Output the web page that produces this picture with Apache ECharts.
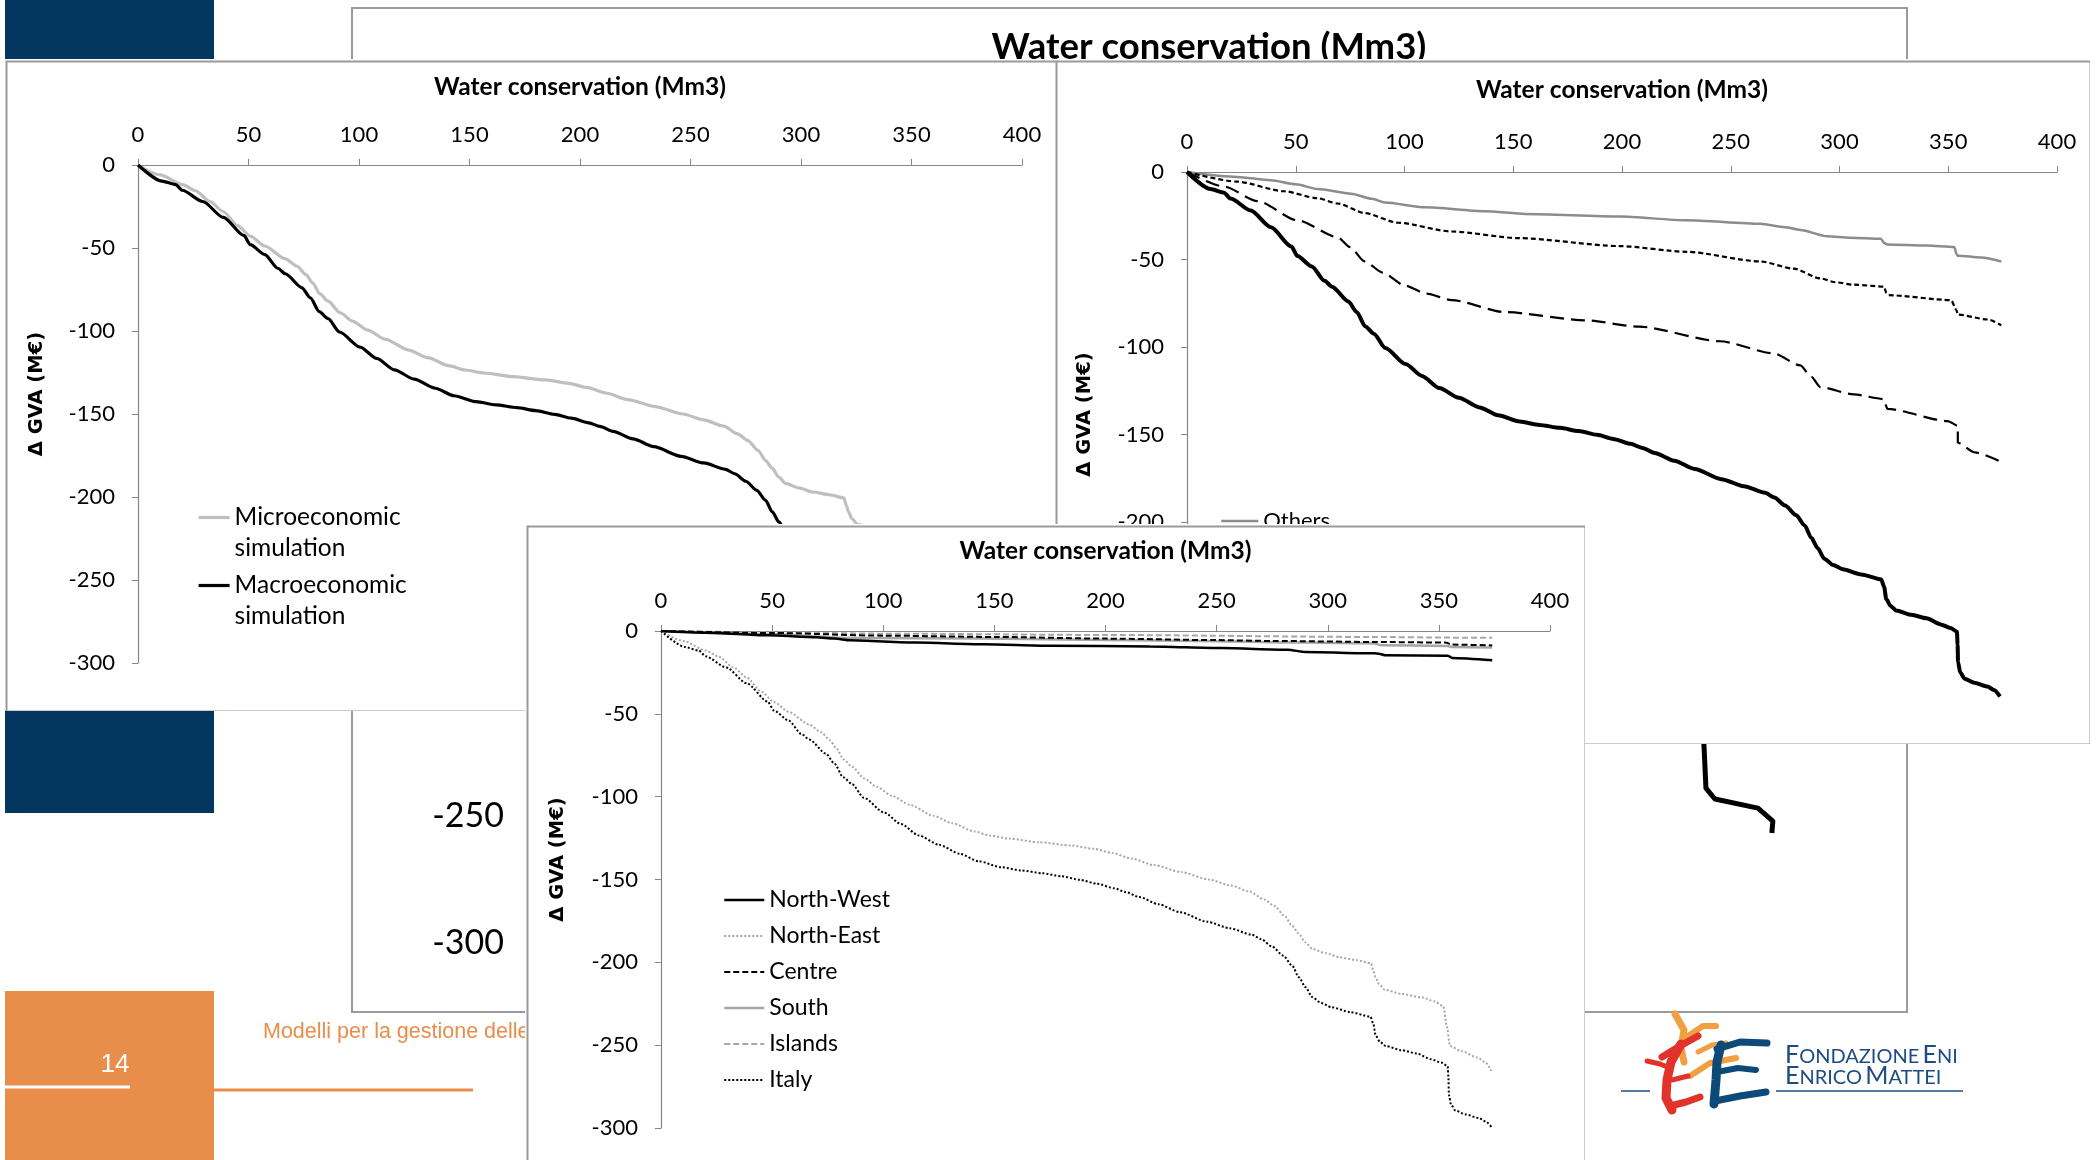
<!DOCTYPE html>
<html>
<head>
<meta charset="utf-8">
<script src="https://cdn.jsdelivr.net/npm/echarts@6/dist/echarts.min.js"></script>
<style>
  html, body { margin: 0; padding: 0; background: #fff; }
  #stage { position: relative; width: 2100px; height: 1160px; overflow: hidden; background: #fff; }
  .panel { position: absolute; background: #fff; }
</style>
</head>
<body>
<div id="stage">
  <div id="bg" class="panel" style="left:0;top:0;width:2100px;height:1160px;background:transparent"></div>
  <div id="p2" class="panel" style="left:1054px;top:59px;width:1036px;height:685px"></div>
  <div id="p1" class="panel" style="left:4px;top:59px;width:1052px;height:652px"></div>
  <div id="p3" class="panel" style="left:525px;top:524px;width:1060px;height:650px"></div>
</div>
<script>
// ---- axis ticks ----
const waterTicks = [0, 50, 100, 150, 200, 250, 300, 350, 400];
const gvaTicks = [0, -50, -100, -150, -200, -250, -300];

// ---- series: [water conservation Mm3, delta GVA M€] ----
const italyMacro = [[0,0],[10.8,-9.7],[17,-11.8],[20,-15.2],[29.3,-22],[38.6,-31.6],[48,-42.6],[50.8,-48],[57.4,-54],[63.2,-62.2],[66.7,-65.5],[74.2,-74],[78,-80],[82,-88.3],[86,-92.5],[91.2,-100.6],[100.5,-109.7],[108,-116.5],[116,-123.4],[125,-129],[134.5,-134.5],[143,-139],[153,-142.6],[162,-144.5],[171.5,-146.2],[180,-148],[188.5,-150.2],[196,-152.5],[204,-155.3],[209,-157.5],[215,-160.5],[224,-165],[233.4,-169.7],[245.7,-175.5],[256,-179.5],[265.8,-183.3],[270,-186],[275,-190.5],[280,-196],[284,-202],[287,-209],[290,-215],[293,-221],[297,-224.5],[301.5,-227],[310,-230],[319.2,-232.8],[320.5,-237],[321.5,-244],[323.5,-248],[326,-250.5],[333,-253],[340,-255],[346.5,-258.5],[351,-260.5],[354,-262.7],[354.3,-270],[354.5,-280],[355.5,-286],[357.5,-289.5],[362,-291.8],[368,-294],[371,-296],[373.8,-299.7]];
const microSim = [[0,0],[10,-6],[20.2,-11.8],[26,-15.5],[32.6,-22],[38.5,-28],[45,-36.5],[51,-43],[57.4,-48.8],[66.7,-56.5],[72,-61],[76,-66],[79,-71],[82.2,-77.5],[86,-82],[91.5,-89],[97,-94],[103.9,-99.5],[112,-105],[122.5,-111.5],[131,-116],[141,-121],[148,-123.5],[156.6,-125.3],[170,-127.5],[184.5,-129.5],[195,-131.5],[203,-134],[212,-137.5],[221.7,-141.3],[234,-145.5],[246.5,-150],[256,-153.5],[265,-157.3],[271.3,-162],[276,-166],[280.6,-172],[284,-178],[286.8,-182.5],[290,-188],[293,-191.8],[299,-194.5],[305.4,-197],[313,-198.7],[319.4,-200.5],[320.5,-205],[321.5,-209],[323,-213],[325.6,-216.5],[333,-219],[342.6,-221.3],[348,-223.5],[352,-226.5],[353.5,-238],[355,-250.5],[360,-253.5],[367.4,-257.5],[371,-260.5],[373.6,-265.5]];
const othersGroup = [[0,0],[23,-2.8],[38.5,-4.7],[50,-7],[60,-9.7],[75.5,-12.4],[85,-15.3],[91,-17.4],[109.4,-20.2],[137,-22.4],[155.6,-24],[198.8,-25.4],[229.6,-27.6],[263.5,-29.6],[275,-31.5],[282,-33.1],[294.3,-36.7],[305,-37.5],[319,-38.1],[320.5,-40.5],[322,-41.4],[340,-42],[352.8,-42.8],[353.8,-47],[354.4,-47.8],[365.2,-48.9],[374.4,-51.1]];
const groupShortDash = [[0,0],[23,-5.5],[44.7,-11],[60,-15],[69.3,-18],[81.7,-23.5],[97,-29],[121.7,-34],[152.5,-37.8],[198.8,-42.3],[229.6,-45.6],[263.5,-51.1],[278.9,-55.2],[291.2,-60.8],[298,-63],[306.6,-64.4],[320.5,-65.5],[321.5,-69],[322.6,-70.4],[351.3,-73.2],[353.8,-79],[354.4,-81.5],[368.2,-84.3],[374.4,-87.6]];
const groupLongDash = [[0,0],[17,-8.3],[32.4,-16.6],[50.8,-27.6],[69.3,-37.3],[75,-43],[81.7,-51.1],[90,-57.5],[100.2,-64.9],[110,-69.5],[121.7,-73.2],[146.4,-80.1],[183.4,-84.8],[208,-88.4],[245,-96.7],[269.6,-103.6],[282,-110.5],[287,-117],[291.2,-122.9],[306.6,-127.1],[320.5,-129.8],[321.2,-133],[322,-135.4],[349.8,-142.3],[354.4,-145],[354.4,-154.7],[362.1,-160.2],[374.4,-165.7]];
const northWest = [[0,0],[20,-1],[48,-2.6],[70,-3.8],[78,-4.6],[85,-5.6],[115,-7],[145,-8],[175,-8.9],[220,-9.3],[252,-10.3],[282,-11.3],[290,-12.7],[321,-13.5],[323,-13.7],[326,-14.7],[354,-14.9],[356,-16.3],[374,-17.7]];
const northEast = microSim;
const centre = [[0,0],[50,-1.2],[100,-2.8],[150,-3.6],[200,-4.6],[250,-5.5],[275,-6],[320,-6.6],[353,-7],[356,-8.2],[374,-8.7]];
const south = [[0,0],[47,-1.8],[85,-4.2],[145,-4.6],[200,-5.4],[250,-6.2],[290,-7],[321,-7.5],[324,-8.6],[354,-9],[356,-9.7],[374,-10]];
const islands = [[0,0],[50,-0.8],[100,-1.6],[200,-2.4],[320,-3.6],[356,-4],[374,-4]];
const italy = italyMacro;
// tail of the large chart in the back
const backTail = [[352,-200],[354.4,-222],[355,-239],[357.7,-243.3],[370.7,-246.9],[375.2,-252],[374.9,-256.7]];

const FONT = 'Lato';
const AXIS_GREY = '#868686';
const PANEL_BORDER = '#9a9a9a';

function xAxisCfg(gap) {
  return {
    type: 'value', position: 'top',
    min: waterTicks[0], max: waterTicks[waterTicks.length - 1], interval: waterTicks[1] - waterTicks[0],
    name: 'Water conservation (Mm3)', nameLocation: 'middle', nameGap: gap,
    nameTextStyle: { fontFamily: FONT, fontWeight: 'bold', fontSize: 24.5, color: '#000' },
    axisLine: { show: true, onZero: false, lineStyle: { color: AXIS_GREY, width: 1.2 } },
    axisTick: { show: true, length: 6, lineStyle: { color: AXIS_GREY } },
    axisLabel: { fontFamily: FONT, fontSize: 22, color: '#000', margin: 19 },
    splitLine: { show: false }
  };
}
function yAxisCfg(gap) {
  return {
    type: 'value',
    min: gvaTicks[gvaTicks.length - 1], max: gvaTicks[0], interval: gvaTicks[0] - gvaTicks[1],
    name: 'Δ GVA (M€)', nameLocation: 'middle', nameRotate: 90, nameGap: gap,
    nameTextStyle: { fontFamily: 'DejaVu Sans', fontWeight: 'bold', fontSize: 19.5, color: '#000', padding: [0, 0, 0, 40] },
    axisLine: { show: true, lineStyle: { color: AXIS_GREY, width: 1.2 } },
    axisTick: { show: true, length: 6, lineStyle: { color: AXIS_GREY } },
    axisLabel: { fontFamily: FONT, fontSize: 22, color: '#000', margin: 23 },
    splitLine: { show: false }
  };
}
function line(name, data, color, width, type, z) {
  return {
    name: name, type: 'line', data: data, showSymbol: false, symbol: 'none',
    smooth: 0.25, smoothMonotone: 'x', z: z || 2,
    lineStyle: { color: color, width: width, type: type || 'solid', cap: 'butt' },
    itemStyle: { color: color }
  };
}
function border(w, h) {
  return { type: 'rect', left: 0, top: 0, z: 100, silent: true,
    shape: { x: 1, y: 1, width: w - 2, height: h - 2 },
    style: { fill: 'none', stroke: PANEL_BORDER, lineWidth: 2 } };
}
function brush(points, color, width) {
  return { type: 'polyline', shape: { points: points },
    style: { stroke: color, lineWidth: width, fill: 'none', lineCap: 'round', lineJoin: 'round' } };
}

// ---- background slide ----
const bg = echarts.init(document.getElementById('bg'), null, { renderer: 'canvas' });
const RED = '#E2332A', ORANGE = '#F0A040', NAVY = '#0E4A78';
bg.setOption({
  animation: false,
  grid: { left: 530, right: 245, top: 181, bottom: 217 },
  xAxis: { type: 'value', min: 0, max: 400, interval: 50, show: false },
  yAxis: {
    type: 'value', min: gvaTicks[gvaTicks.length - 1], max: gvaTicks[0], interval: 50,
    axisLine: { show: false }, axisTick: { show: false }, splitLine: { show: false },
    axisLabel: { fontFamily: FONT, fontSize: 34, color: '#000', margin: 26 }
  },
  series: [ { name: 'Italy', type: 'line', data: backTail, showSymbol: false, symbol: 'none',
    lineStyle: { color: '#000', width: 5, join: 'round' } } ],
  graphic: [
    { type: 'rect', shape: { x: 5, y: 0, width: 209, height: 60 }, style: { fill: '#04375F' } },
    { type: 'rect', shape: { x: 5, y: 710, width: 209, height: 103 }, style: { fill: '#04375F' } },
    { type: 'rect', shape: { x: 5, y: 991, width: 209, height: 175 }, style: { fill: '#E98D4B' } },
    { type: 'text', x: 115, y: 1065, style: { text: '14', fill: '#fff', font: '26px "Liberation Sans"', align: 'center', verticalAlign: 'middle' } },
    { type: 'line', shape: { x1: 5, y1: 1087, x2: 130, y2: 1087 }, style: { stroke: '#fff', lineWidth: 3 } },
    { type: 'line', shape: { x1: 214, y1: 1090, x2: 473, y2: 1090 }, style: { stroke: '#E98D4B', lineWidth: 3 } },
    { type: 'text', x: 263, y: 1032, style: { text: 'Modelli per la gestione delle', fill: '#E98D4B', font: '21.5px "Liberation Sans"', align: 'left', verticalAlign: 'middle' } },
    { type: 'rect', shape: { x: 352, y: 8, width: 1555, height: 1004 }, style: { fill: 'none', stroke: PANEL_BORDER, lineWidth: 2 } },
    { type: 'text', x: 1209, y: 47.5, style: { text: 'Water conservation (Mm3)', fill: '#000', font: 'bold 36.5px Lato', align: 'center', verticalAlign: 'middle' } },
    // logo
    { type: 'text', x: 1785, y: 1067, style: {
        text: '{b|F}{s|ONDAZIONE} {b|E}{s|NI}', fill: '#1D4C80', align: 'left', verticalAlign: 'bottom',
        rich: { b: { fontFamily: FONT, fontSize: 25, fill: '#1D4C80', verticalAlign: 'bottom' }, s: { fontFamily: FONT, fontSize: 20, fill: '#1D4C80', verticalAlign: 'bottom' } } } },
    { type: 'text', x: 1785, y: 1088, style: {
        text: '{b|E}{s|NRICO} {b|M}{s|ATTEI}', fill: '#1D4C80', align: 'left', verticalAlign: 'bottom',
        rich: { b: { fontFamily: FONT, fontSize: 25, fill: '#1D4C80', verticalAlign: 'bottom' }, s: { fontFamily: FONT, fontSize: 20, fill: '#1D4C80', verticalAlign: 'bottom' } } } },
    { type: 'line', shape: { x1: 1776, y1: 1091, x2: 1963, y2: 1091 }, style: { stroke: '#1D4C80', lineWidth: 1.5 } },
    { type: 'line', shape: { x1: 1621, y1: 1091, x2: 1650, y2: 1091 }, style: { stroke: '#1D4C80', lineWidth: 1.5 } },
    brush([[1675,1014],[1684,1030],[1681,1048],[1684,1062]], ORANGE, 7),
    brush([[1688,1036],[1703,1026],[1716,1026]], ORANGE, 6),
    brush([[1690,1076],[1710,1063],[1736,1058]], ORANGE, 6),
    brush([[1698,1052],[1712,1045],[1726,1043]], ORANGE, 5),
    brush([[1662,1057],[1680,1046],[1698,1036]], RED, 7),
    brush([[1681,1044],[1671,1062],[1667,1080],[1666,1098],[1672,1110]], RED, 9),
    brush([[1670,1106],[1686,1102],[1700,1097]], RED, 7),
    brush([[1647,1061],[1660,1064],[1670,1068]], RED, 5),
    brush([[1672,1080],[1688,1076]], RED, 5),
    brush([[1717,1049],[1740,1042],[1767,1043]], NAVY, 7),
    brush([[1721,1045],[1717,1062],[1716,1080],[1714,1104]], NAVY, 9),
    brush([[1717,1072],[1738,1068],[1756,1070]], NAVY, 6),
    brush([[1715,1101],[1740,1096],[1766,1092]], NAVY, 7)
  ]
});

const legendLine = { width: 'inherit' };

// ---- panel 2: regional breakdown with "Others" ----
const c2 = echarts.init(document.getElementById('p2'));
c2.setOption({
  animation: false,
  grid: { left: 133, right: 33, top: 113, bottom: 47 },
  xAxis: xAxisCfg(69),
  yAxis: yAxisCfg(92),
  legend: {
    data: ['Others'], orient: 'vertical', left: 166, top: 451, padding: 0,
    itemWidth: 37, itemHeight: 14, itemGap: 10, itemStyle: { opacity: 0 }, lineStyle: legendLine,
    textStyle: { fontFamily: FONT, fontSize: 22, color: '#000' }
  },
  series: [
    line('Others', othersGroup, '#8C8C8C', 2.5),
    line('Group 2', groupShortDash, '#000', 2.2, [5, 3]),
    line('Group 3', groupLongDash, '#000', 2.2, [14, 7]),
    line('Italy', italyMacro, '#000', 4, 'solid', 3)
  ],
  graphic: [border(1036, 685)]
});

// ---- panel 1: micro vs macro ----
const c1 = echarts.init(document.getElementById('p1'));
c1.setOption({
  animation: false,
  grid: { left: 134, right: 34, top: 106, bottom: 48 },
  xAxis: xAxisCfg(65),
  yAxis: yAxisCfg(91),
  legend: {
    data: ['Microeconomic\nsimulation', 'Macroeconomic\nsimulation'],
    // a leading blank line keeps the icon level with the first text line
    formatter: function (name) { return '\n' + name; },
    orient: 'vertical', left: 193, top: 412, padding: 0,
    itemWidth: 31, itemHeight: 14, itemGap: -25, itemStyle: { opacity: 0 }, lineStyle: legendLine,
    textStyle: { fontFamily: FONT, fontSize: 24.5, lineHeight: 31, color: '#000' }
  },
  series: [
    line('Microeconomic\nsimulation', microSim, '#BFBFBF', 3.2),
    line('Macroeconomic\nsimulation', italyMacro, '#000', 3.2, 'solid', 3)
  ],
  graphic: [border(1052, 652)]
});

// ---- panel 3: regions ----
const c3 = echarts.init(document.getElementById('p3'));
c3.setOption({
  animation: false,
  grid: { left: 136, right: 35, top: 107, bottom: 46 },
  xAxis: xAxisCfg(67),
  yAxis: yAxisCfg(93),
  legend: {
    data: ['North-West', 'North-East', 'Centre', 'South', 'Islands', 'Italy'],
    orient: 'vertical', left: 198, top: 363, padding: 0,
    itemWidth: 40, itemHeight: 14, itemGap: 10, itemStyle: { opacity: 0 }, lineStyle: legendLine,
    textStyle: { fontFamily: FONT, fontSize: 23, lineHeight: 26, color: '#000' }
  },
  series: [
    line('North-West', northWest, '#000', 2.5, 'solid', 3),
    line('North-East', northEast, '#A6A6A6', 2, [2, 2]),
    line('Centre', centre, '#000', 2, [6, 3], 3),
    line('South', south, '#A6A6A6', 2.5),
    line('Islands', islands, '#A6A6A6', 2, [6, 3]),
    line('Italy', italy, '#000', 2, [2, 2], 3)
  ],
  graphic: [border(1060, 700)]
});
</script>
</body>
</html>
